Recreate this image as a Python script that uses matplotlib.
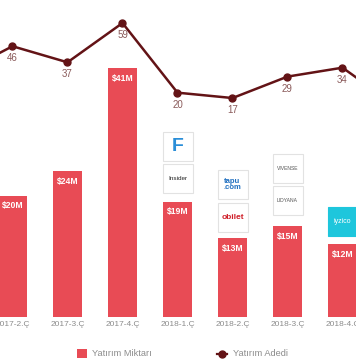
import matplotlib
matplotlib.use("Agg")
import matplotlib.pyplot as plt
from matplotlib.patches import Rectangle
from matplotlib.lines import Line2D

# ---- data ----
quarters = ["2017-2.Ç", "2017-3.Ç", "2017-4.Ç", "2018-1.Ç", "2018-2.Ç", "2018-3.Ç", "2018-4.Ç"]
amounts = [20, 24, 41, 19, 13, 15, 12]            # Yatırım Miktarı ($M)
amount_labels = ["$20M", "$24M", "$41M", "$19M", "$13M", "$15M", "$12M"]
counts = [46, 37, 59, 20, 17, 29, 34]              # Yatırım Adedi
# neighbouring quarters, only partly visible at the chart edges
count_prev = 30   # 2017-1.Ç
count_next = 12   # 2019-1.Ç

BAR = "#E84B55"
LINE = "#631316"
LBL = "#8A5A5A"
TICK = "#8C8C8C"
FONT = ["Liberation Sans", "DejaVu Sans"]
plt.rcParams["font.family"] = FONT

W, H = 356, 364
fig = plt.figure(figsize=(W / 100, H / 100), dpi=100)
fig.patch.set_facecolor("white")

bottom_px = 317
ax = fig.add_axes([0, (H - bottom_px) / H, 1, bottom_px / H])
x = list(range(len(quarters)))
step = 55.0
x0px = 12.5
ax.set_xlim(-x0px / step, (W - x0px) / step)
pxM = 6.07
ax.set_ylim(0, bottom_px / pxM)

bw = 29 / step
ax.bar(x, amounts, width=bw, color=BAR, zorder=2)
for xi, v, s in zip(x, amounts, amount_labels):
    ax.annotate(s, (xi, v), xytext=(0, -4), textcoords="offset points",
                ha="center", va="top", color="white", fontsize=6.2,
                fontweight="bold", zorder=3)

for s in ax.spines.values():
    s.set_visible(False)
ax.set_yticks([])
ax.set_xticks(x)
ax.set_xticklabels(quarters, fontsize=6, color=TICK)
ax.tick_params(axis="x", length=0, pad=3)

# ---- line on twin axis ----
ax2 = ax.twinx()
zero_px = 128.4
pxU = 1.786
ax2.set_ylim(-(bottom_px - zero_px) / pxU, zero_px / pxU)
ax2.set_yticks([])
for s in ax2.spines.values():
    s.set_visible(False)
lx = [-1] + x + [len(x)]
ly = [count_prev] + counts + [count_next]
ax2.plot(lx, ly, color=LINE, lw=1.8, marker="o", ms=5, zorder=4)
for xi, v in zip(x, counts):
    ax2.annotate(str(v), (xi, v), xytext=(0, -5), textcoords="offset points",
                 ha="center", va="top", color=LBL, fontsize=7)
ax2.set_xlim(ax.get_xlim())

# ---- logo boxes (decorative) ----
def logo(xc, ytop_px, text, color="#333333", fc="white", size=5, weight="normal",
         ec="#e2e2e2", ls=1.2):
    left = xc - 15 / step
    yb = (bottom_px - ytop_px - 29) / pxM
    r = Rectangle((left, yb), 30 / step, 29 / pxM, facecolor=fc, edgecolor=ec,
                  lw=0.8, zorder=3)
    ax.add_patch(r)
    ax.text(xc, yb + 14.5 / pxM, text, ha="center", va="center", fontsize=size,
            color=color, fontweight=weight, zorder=4, linespacing=ls)

logo(3, 132, "F", color="#2a8ed8", size=14, weight="bold")
logo(3, 164, "Insider", color="#222222", size=4.6)
logo(4, 170, "tapu\n.com", color="#1f6fc0", size=5.5, weight="bold", ls=0.9)
logo(4, 203, "obilet", color="#d0202a", size=6, weight="bold")
logo(5, 154, "VIVENSE", color="#555555", size=3.6)
logo(5, 186, "LIDYANA", color="#555555", size=3.6)
logo(6, 207, "iyzico", color="white", fc="#1EC6DC", size=5, ec="#1EC6DC")

# ---- legend ----
fig.add_artist(Rectangle((77 / W, 1 - 358 / H), 10 / W, 9 / H,
                         transform=fig.transFigure, facecolor=BAR, edgecolor="none"))
fig.text(92 / W, 1 - 353.5 / H, "Yatırım Miktarı", fontsize=6.7, color=TICK, va="center")
fig.add_artist(Line2D([217 / W, 227 / W], [1 - 353.5 / H] * 2, transform=fig.transFigure,
                      color=LINE, lw=1.6))
fig.add_artist(Line2D([222 / W], [1 - 353.5 / H], transform=fig.transFigure,
                      color=LINE, marker="o", ms=5, lw=0))
fig.text(233 / W, 1 - 353.5 / H, "Yatırım Adedi", fontsize=6.7, color=TICK, va="center")

fig.savefig("out.png", dpi=100, facecolor="white")
